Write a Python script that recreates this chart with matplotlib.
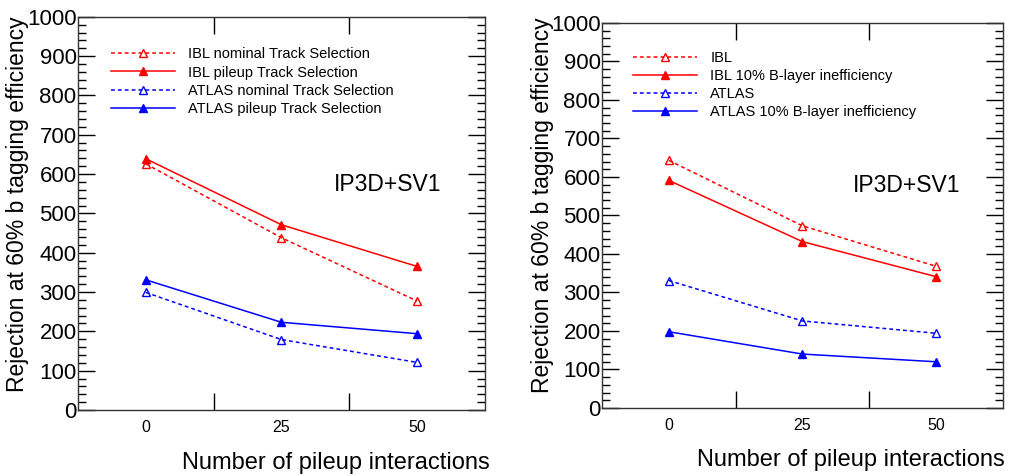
import matplotlib
matplotlib.use('Agg')
from matplotlib import pyplot as plt
from matplotlib.ticker import MultipleLocator, FixedLocator, NullFormatter

plt.rcParams['font.family'] = ['Liberation Sans', 'DejaVu Sans']

# data
pileup = ['0', '25', '50']

# left panel: track selection
ibl_nominal = [626, 438, 277]
ibl_pileup = [639, 471, 365]
atlas_nominal = [299, 179, 121]
atlas_pileup = [331, 223, 194]

# right panel: B-layer inefficiency
ibl = [643, 473, 368]
ibl_blayer = [591, 432, 341]
atlas = [331, 226, 194]
atlas_blayer = [198, 140, 120]

left_labels = ['IBL nominal Track Selection', 'IBL pileup Track Selection',
               'ATLAS nominal Track Selection', 'ATLAS pileup Track Selection']
right_labels = ['IBL', 'IBL 10% B-layer inefficiency',
                'ATLAS', 'ATLAS 10% B-layer inefficiency']

RED = '#ff0000'
BLUE = '#0000ff'


def draw_panel(ax, series, labels, leg_anchor, tag_pos):
    xs = range(len(pileup))
    styles = [(RED, '--', 'none'), (RED, '-', RED), (BLUE, '--', 'none'), (BLUE, '-', BLUE)]
    handles = []
    for vals, lab, (c, ls, fc) in zip(series, labels, styles):
        h, = ax.plot(xs, vals, ls=ls, color=c, lw=1.1, marker='^', ms=5.5,
                     mfc=fc, mec=c, mew=1.0, dashes=(2.5, 2.0) if ls == '--' else (None, None),
                     label=lab)
        handles.append(h)
    ax.set_xlim(-0.5, len(pileup) - 0.5)
    ax.set_ylim(0, 1000)
    # bin edges as major ticks, bin labels at centres
    ax.xaxis.set_major_locator(FixedLocator([0.5, 1.5]))
    ax.xaxis.set_major_formatter(NullFormatter())
    ax.xaxis.set_minor_locator(FixedLocator(list(xs)))
    ax.set_xticklabels(pileup, minor=True)
    ax.tick_params(axis='x', which='major', direction='in', length=12, width=1.0,
                   top=True, bottom=True)
    ax.tick_params(axis='x', which='minor', length=0, pad=7, labelsize=11.5)
    ax.yaxis.set_major_locator(MultipleLocator(100))
    ax.yaxis.set_minor_locator(MultipleLocator(20))
    ax.tick_params(axis='y', which='major', direction='in', length=12, width=1.0,
                   left=True, right=True, labelsize=16, pad=1)
    ax.tick_params(axis='y', which='minor', direction='in', length=6, width=1.0,
                   left=True, right=True)
    for sp in ax.spines.values():
        sp.set_linewidth(1.0)
        sp.set_color('#333333')
    ax.legend(handles=handles, loc='upper left', bbox_to_anchor=leg_anchor,
              frameon=False, fontsize=10.5, handlelength=4.4, handletextpad=0.9,
              labelspacing=0.28, borderpad=0, borderaxespad=0)
    ax.text(tag_pos[0], tag_pos[1], 'IP3D+SV1', transform=ax.transAxes,
            ha='center', va='center', fontsize=16.5)


fig = plt.figure(figsize=(10.10, 4.76), dpi=100)
ax1 = fig.add_axes([0.0772, 0.1387, 0.403, 0.826])
ax2 = fig.add_axes([0.596, 0.1429, 0.397, 0.809])

draw_panel(ax1, [ibl_nominal, ibl_pileup, atlas_nominal, atlas_pileup], left_labels,
           (0.081, 0.922), (0.76, 0.573))
draw_panel(ax2, [ibl, ibl_blayer, atlas, atlas_blayer], right_labels,
           (0.077, 0.928), (0.761, 0.579))

ylab = 'Rejection at 60% b tagging efficiency'
fig.text(18 / 1010, 1 - 204 / 476, ylab, rotation=90, ha='center', va='center', fontsize=16.5)
fig.text(542 / 1010, 1 - 205 / 476, ylab, rotation=90, ha='center', va='center', fontsize=16.5)

xlab = 'Number of pileup interactions'
fig.text(490 / 1010, 1 - 463 / 476, xlab, ha='right', va='center', fontsize=17)
fig.text(1005 / 1010, 1 - 460 / 476, xlab, ha='right', va='center', fontsize=17)

plt.savefig('out.png', dpi=100)
